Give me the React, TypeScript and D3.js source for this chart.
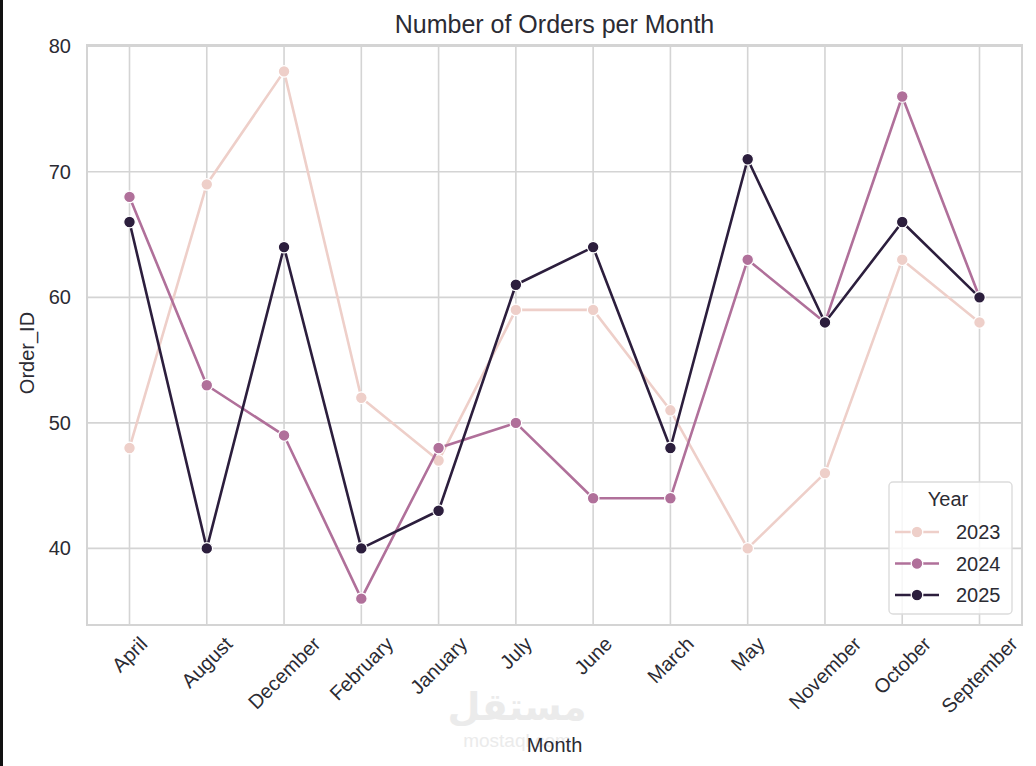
import * as d3 from "d3";
import { useEffect, useRef } from "react";

const months = [
  "April", "August", "December", "February", "January", "July",
  "June", "March", "May", "November", "October", "September",
];
const years = ["2023", "2024", "2025"];
const orders2023 = [48, 69, 78, 52, 47, 59, 59, 51, 40, 46, 63, 58];
const orders2024 = [68, 53, 49, 36, 48, 50, 44, 44, 63, 58, 76, 60];
const orders2025 = [66, 40, 64, 40, 43, 61, 64, 48, 71, 58, 66, 60];
const yTicks = [40, 50, 60, 70, 80];
const colors = ["#eecfc9", "#b0709a", "#2c1e3d"];

const W = 1036;
const H = 766;
const left = 87, right = 1022, top = 45, bottom = 625;
const ink = "#2b2b33";
const font = "'Liberation Sans', Arial, sans-serif";

export default function App() {
  const ref = useRef<SVGSVGElement>(null);

  useEffect(() => {
    const svg = d3.select(ref.current);
    svg.selectAll("*").remove();

    const series = [orders2023, orders2024, orders2025];
    const x = d3.scaleLinear().domain([-0.55, months.length - 0.45]).range([left, right]);
    const y = d3.scaleLinear().domain([33.9, 80.1]).range([bottom, top]);

    svg.append("rect").attr("width", W).attr("height", H).attr("fill", "#fff");
    svg.append("rect").attr("width", 3).attr("height", H).attr("fill", "#111");

    // grid
    const grid = svg.append("g").attr("stroke", "#d4d4d4").attr("stroke-width", 1.6);
    months.forEach((_, i) => {
      grid.append("line").attr("x1", x(i)).attr("x2", x(i)).attr("y1", top).attr("y2", bottom);
    });
    yTicks.forEach((t) => {
      grid.append("line").attr("x1", left).attr("x2", right).attr("y1", y(t)).attr("y2", y(t));
    });
    svg.append("rect")
      .attr("x", left).attr("y", top)
      .attr("width", right - left).attr("height", bottom - top)
      .attr("fill", "none").attr("stroke", "#d4d4d4").attr("stroke-width", 2);

    // y tick labels
    svg.append("g").selectAll("text").data(yTicks).join("text")
      .attr("x", left - 16).attr("y", (d) => y(d))
      .attr("dy", "0.35em").attr("text-anchor", "end")
      .attr("font-family", font).attr("font-size", 20).attr("fill", ink)
      .text((d) => d);

    // x tick labels, rotated 45 and centred on the tick like matplotlib
    const xl = svg.append("g");
    months.forEach((m, i) => {
      const t = xl.append("text")
        .attr("font-family", font).attr("font-size", 20).attr("fill", ink)
        .attr("text-anchor", "middle").attr("dy", "0.35em")
        .text(m);
      const w = (t.node() as SVGTextElement).getComputedTextLength();
      const hh = 20 * 0.75;
      const half = ((w + hh) * Math.SQRT1_2) / 2;
      t.attr("transform", `translate(${x(i)},${bottom + 10 + half}) rotate(-45)`);
    });

    // lines + markers
    series.forEach((vals, s) => {
      const line = d3.line<number>().x((_, i) => x(i)).y((d) => y(d));
      svg.append("path").datum(vals)
        .attr("fill", "none").attr("stroke", colors[s])
        .attr("stroke-width", 2.6).attr("stroke-linejoin", "round")
        .attr("d", line);
      svg.append("g").selectAll("circle").data(vals).join("circle")
        .attr("cx", (_, i) => x(i)).attr("cy", (d) => y(d)).attr("r", 5.8)
        .attr("fill", colors[s]).attr("stroke", "#fff").attr("stroke-width", 1.2);
    });

    // watermark
    svg.append("text").attr("x", 517).attr("y", 720).attr("text-anchor", "middle")
      .attr("font-family", "'DejaVu Sans', sans-serif").attr("font-weight", "bold")
      .attr("font-size", 38).attr("fill", "#ebebeb").text("مستقل");
    svg.append("text").attr("x", 517).attr("y", 747).attr("text-anchor", "middle")
      .attr("font-family", font).attr("font-size", 19).attr("fill", "#ebebeb")
      .text("mostaql.com");

    // title and axis labels
    svg.append("text").attr("x", (left + right) / 2).attr("y", 33)
      .attr("text-anchor", "middle").attr("font-family", font)
      .attr("font-size", 25).attr("fill", ink).text("Number of Orders per Month");
    svg.append("text").attr("x", (left + right) / 2).attr("y", 752)
      .attr("text-anchor", "middle").attr("font-family", font)
      .attr("font-size", 20).attr("fill", ink).text("Month");
    svg.append("text")
      .attr("transform", `translate(34,${(top + bottom) / 2 + 18}) rotate(-90)`)
      .attr("text-anchor", "middle").attr("font-family", font)
      .attr("font-size", 20).attr("fill", ink).text("Order_ID");

    // legend
    const lg = svg.append("g").attr("transform", "translate(889,482)");
    lg.append("rect").attr("width", 123).attr("height", 132).attr("rx", 4)
      .attr("fill", "rgba(255,255,255,0.8)").attr("stroke", "#dcdcdc").attr("stroke-width", 1.4);
    lg.append("text").attr("x", 59).attr("y", 24).attr("text-anchor", "middle")
      .attr("font-family", font).attr("font-size", 20).attr("fill", ink).text("Year");
    years.forEach((yr, s) => {
      const cy = 50 + s * 31.5;
      lg.append("line").attr("x1", 6).attr("x2", 50).attr("y1", cy).attr("y2", cy)
        .attr("stroke", colors[s]).attr("stroke-width", 2.6);
      lg.append("circle").attr("cx", 28).attr("cy", cy).attr("r", 5.8)
        .attr("fill", colors[s]).attr("stroke", "#fff").attr("stroke-width", 1.2);
      lg.append("text").attr("x", 67).attr("y", cy).attr("dy", "0.35em")
        .attr("font-family", font).attr("font-size", 20).attr("fill", ink).text(yr);
    });
  }, []);

  return (
    <svg
      ref={ref}
      width={W}
      height={H}
      style={{ position: "absolute", left: 0, top: 0 }}
    />
  );
}
